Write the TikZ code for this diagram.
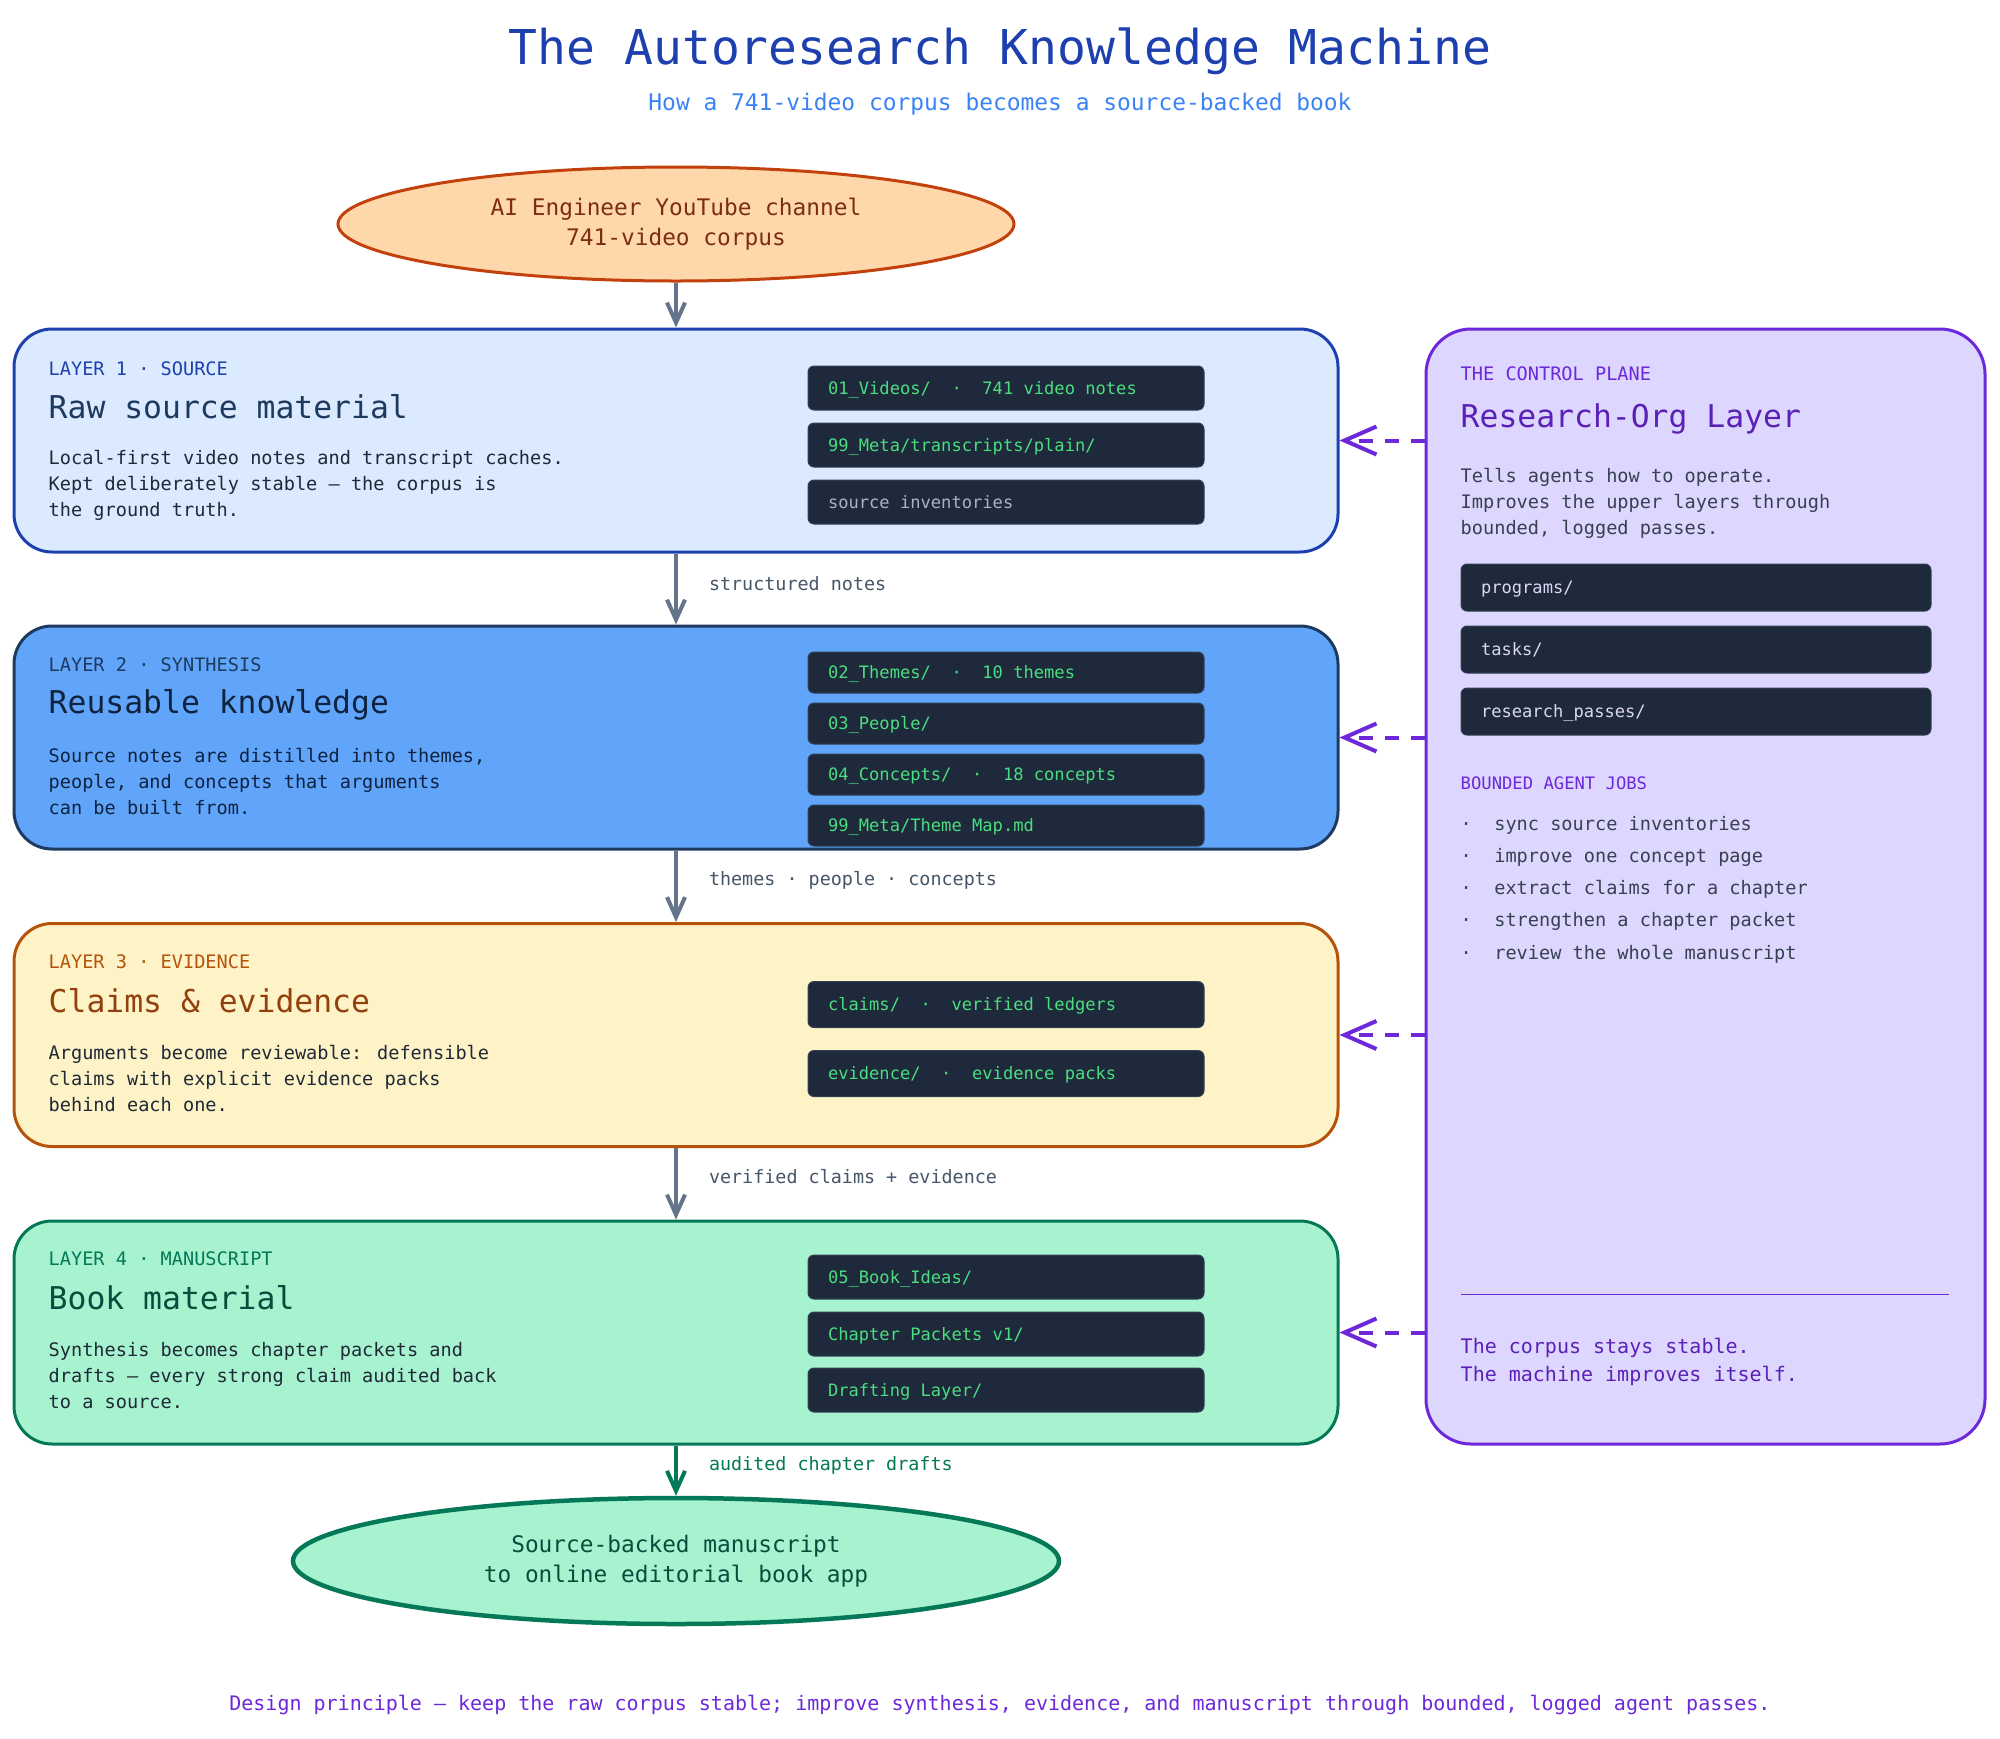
\documentclass[tikz,border=0pt]{standalone}
\usepackage{fontspec}
\setmainfont{DejaVu Sans Mono}
\usepackage{tikz}
\usetikzlibrary{arrows.meta,calc,positioning,shapes.geometric}

\definecolor{blue8}{HTML}{1E40AF}
\definecolor{blue5}{HTML}{3B82F6}
\definecolor{blue1}{HTML}{DBEAFE}
\definecolor{blue4}{HTML}{60A5FA}
\definecolor{navy}{HTML}{1E3A5F}
\definecolor{navydark}{HTML}{0F2340}
\definecolor{orange7}{HTML}{C2410C}
\definecolor{orange2}{HTML}{FED7AA}
\definecolor{orange9}{HTML}{7C2D12}
\definecolor{amber1}{HTML}{FEF3C7}
\definecolor{amber7}{HTML}{B45309}
\definecolor{amber8}{HTML}{92400E}
\definecolor{green2}{HTML}{A7F3D0}
\definecolor{green7}{HTML}{047857}
\definecolor{green9}{HTML}{064E3B}
\definecolor{violet2}{HTML}{DDD6FE}
\definecolor{violet7}{HTML}{6D28D9}
\definecolor{violet8}{HTML}{5B21B6}
\definecolor{ink}{HTML}{1F2937}
\definecolor{inkgray}{HTML}{374151}
\definecolor{arrowgray}{HTML}{64748B}
\definecolor{labelgray}{HTML}{475569}
\definecolor{chipbg}{HTML}{1E293B}
\definecolor{chipedge}{HTML}{334155}
\definecolor{chipgreen}{HTML}{4ADE80}
\definecolor{chipgray}{HTML}{A8B3C4}
\definecolor{chiplight}{HTML}{DCD7F2}

\newcommand{\fsz}[2]{\fontsize{#1}{#2}\selectfont}

\begin{document}
\begin{tikzpicture}[x=1pt, y=-1pt,
    flowarrow/.style={-{Straight Barb[length=20pt,width=18pt]}, line width=4pt, draw=arrowgray},
    ctrlarrow/.style={-{Straight Barb[length=32pt,width=28pt]}, line width=4pt, draw=violet7, dash pattern=on 14pt off 12pt},
    flowlabel/.style={inner sep=0pt, text=labelgray, font=\fsz{18.4}{22}},
    layerbox/.style={draw, line width=3pt, rounded corners=38pt, minimum width=1324pt, minimum height=223pt, inner sep=0pt},
    layertag/.style={anchor=west, inner sep=0pt, font=\fsz{18.6}{22}},
    layerhead/.style={anchor=west, inner sep=0pt, font=\fsz{31.4}{36}},
    layerbody/.style={anchor=west, inner sep=0pt, align=left, text=ink, font=\fsz{18.6}{26}},
    chipbox/.style={anchor=north west, fill=chipbg, draw=chipedge, line width=1pt, rounded corners=6pt, text width=356pt, inner xsep=20pt, inner ysep=0pt, minimum height=44pt, align=left, text=chipgreen, font=\fsz{17.1}{20}, text height=12.4pt, text depth=0pt, execute at begin node={\spaceskip=0pt\xspaceskip=0pt\relax}},
    sidechip/.style={chipbox, text width=430pt, minimum height=47pt, text=chiplight},
    endpoint/.style={ellipse, line width=3pt, inner sep=0pt, align=center, font=\fsz{22.8}{30}}
]
    \fill[white] (0,0) rectangle (2000,1738);
    \useasboundingbox (0,0) rectangle (2000,1738);

    \node[text=blue8, font=\fsz{48}{56}] (title) at (1000,51) {The Autoresearch Knowledge Machine};
    \node[text=blue5, font=\fsz{22.9}{28}] (subtitle) at (1000,104) {How a 741-video corpus becomes a source-backed book};

    \node[endpoint, draw=orange7, fill=orange2, text=orange9, minimum width=676pt, minimum height=114pt] (src) at (676,224) {AI Engineer YouTube channel\\741-video corpus};

    \begin{scope}
        \node[layerbox, draw=blue8, fill=blue1] (L1) at (676,440.5) {};
        \node[layertag, text=blue8] (L1tag) at ($(L1.north west)+(36,41)$) {LAYER 1 · SOURCE};
        \node[layerhead, text=navy] (L1head) at ($(L1.north west)+(36,79)$) {Raw source material};
        \node[layerbody] (L1body) at ($(L1.north west)+(36,158)$) {Local-first video notes and transcript caches.\\Kept deliberately stable — the corpus is\\the ground truth.};
        \node[chipbox] (c1a) at ($(L1.north west)+(795,38)$) {01\_Videos/~~·~~741 video notes};
        \node[chipbox, below=12pt of c1a] (c1b) {99\_Meta/transcripts/plain/};
        \node[chipbox, below=12pt of c1b, text=chipgray] (c1c) {source inventories};
    \end{scope}

    \begin{scope}
        \node[layerbox, draw=navy, fill=blue4] (L2) at (676,737.5) {};
        \node[layertag, text=navy] (L2tag) at ($(L2.north west)+(36,40)$) {LAYER 2 · SYNTHESIS};
        \node[layerhead, text=navydark] (L2head) at ($(L2.north west)+(36,80)$) {Reusable knowledge};
        \node[layerbody, text=navydark] (L2body) at ($(L2.north west)+(36,157)$) {Source notes are distilled into themes,\\people, and concepts that arguments\\can be built from.};
        \node[chipbox, minimum height=41pt] (c2a) at ($(L2.north west)+(795,27)$) {02\_Themes/~~·~~10 themes};
        \node[chipbox, minimum height=41pt, below=9pt of c2a] (c2b) {03\_People/};
        \node[chipbox, minimum height=41pt, below=9pt of c2b] (c2c) {04\_Concepts/~~·~~18 concepts};
        \node[chipbox, minimum height=41pt, below=9pt of c2c] (c2d) {99\_Meta/Theme Map.md};
    \end{scope}

    \begin{scope}
        \node[layerbox, draw=amber7, fill=amber1] (L3) at (676,1035) {};
        \node[layertag, text=amber7] (L3tag) at ($(L3.north west)+(36,40)$) {LAYER 3 · EVIDENCE};
        \node[layerhead, text=amber8] (L3head) at ($(L3.north west)+(36,79)$) {Claims \& evidence};
        \node[layerbody] (L3body) at ($(L3.north west)+(36,156)$) {Arguments become reviewable: defensible\\claims with explicit evidence packs\\behind each one.};
        \node[chipbox, minimum height=46pt] (c3a) at ($(L3.north west)+(795,59)$) {claims/~~·~~verified ledgers};
        \node[chipbox, minimum height=46pt, below=22pt of c3a] (c3b) {evidence/~~·~~evidence packs};
    \end{scope}

    \begin{scope}
        \node[layerbox, draw=green7, fill=green2] (L4) at (676,1332.5) {};
        \node[layertag, text=green7] (L4tag) at ($(L4.north west)+(36,39)$) {LAYER 4 · MANUSCRIPT};
        \node[layerhead, text=green9] (L4head) at ($(L4.north west)+(36,78)$) {Book material};
        \node[layerbody] (L4body) at ($(L4.north west)+(36,156)$) {Synthesis becomes chapter packets and\\drafts — every strong claim audited back\\to a source.};
        \node[chipbox] (c4a) at ($(L4.north west)+(795,35)$) {05\_Book\_Ideas/};
        \node[chipbox, below=12pt of c4a] (c4b) {Chapter Packets v1/};
        \node[chipbox, below=11pt of c4b] (c4c) {Drafting Layer/};
    \end{scope}

    \node[endpoint, line width=4.5pt, draw=green7, fill=green2, text=green9, minimum width=766pt, minimum height=126pt] (book) at (676,1561) {Source-backed manuscript\\to online editorial book app};

    \begin{scope}
        \node[draw=violet7, fill=violet2, line width=3pt, rounded corners=45pt, minimum width=559pt, minimum height=1115pt, inner sep=0pt] (ctrl) at (1705.5,886.5) {};
        \node[layertag, text=violet7] (ctag) at ($(ctrl.north west)+(36,46)$) {THE CONTROL PLANE};
        \node[layerhead, text=violet8] (chead) at ($(ctrl.north west)+(36,91)$) {Research-Org Layer};
        \node[layerbody, text=inkgray] (cbody) at ($(ctrl.north west)+(36,176)$) {Tells agents how to operate.\\Improves the upper layers through\\bounded, logged passes.};
        \node[sidechip] (s1) at ($(ctrl.north west)+(36,236)$) {programs/};
        \node[sidechip, below=14pt of s1] (s2) {tasks/};
        \node[sidechip, below=14pt of s2] (s3) {research\_passes/};
        \node[layertag, text=violet7, font=\fsz{17.2}{20}] (jobs) at ($(ctrl.north west)+(36,456)$) {BOUNDED AGENT JOBS};
        \node[layerbody, text=inkgray, font=\fsz{18.6}{32.25}] (joblist) at ($(ctrl.north west)+(36,562)$) {·~~sync source inventories\\·~~improve one concept page\\·~~extract claims for a chapter\\·~~strengthen a chapter packet\\·~~review the whole manuscript};
        \coordinate (sepL) at ($(ctrl.north west)+(36,967)$);
        \coordinate (sepR) at ($(ctrl.north west)+(524,967)$);
        \draw[violet7, line width=1.2pt] (sepL) -- (sepR);
        \node[layerbody, text=violet8, font=\fsz{20}{28}] (motto) at ($(ctrl.north west)+(36,1034)$) {The corpus stays stable.\\The machine improves itself.};
    \end{scope}

    \draw[flowarrow] (src.south) -- (L1.north);
    \draw[flowarrow] (L1.south) -- (L2.north) node[flowlabel, pos=0.42, right=31pt] {structured notes};
    \draw[flowarrow] (L2.south) -- (L3.north) node[flowlabel, pos=0.42, right=31pt] {themes · people · concepts};
    \draw[flowarrow] (L3.south) -- (L4.north) node[flowlabel, pos=0.40, right=31pt] {verified claims + evidence};
    \draw[flowarrow, draw=green7] (L4.south) -- (book.north) node[flowlabel, text=green7, pos=0.40, right=31pt] {audited chapter drafts};

    \draw[ctrlarrow] (ctrl.west |- L1.east) -- (L1.east);
    \draw[ctrlarrow] (ctrl.west |- L2.east) -- (L2.east);
    \draw[ctrlarrow] (ctrl.west |- L3.east) -- (L3.east);
    \draw[ctrlarrow] (ctrl.west |- L4.east) -- (L4.east);

    \node[text=violet7, font=\fsz{20}{24}] (footer) at (1000,1705) {Design principle — keep the raw corpus stable; improve synthesis, evidence, and manuscript through bounded, logged agent passes.};
\end{tikzpicture}
\end{document}
